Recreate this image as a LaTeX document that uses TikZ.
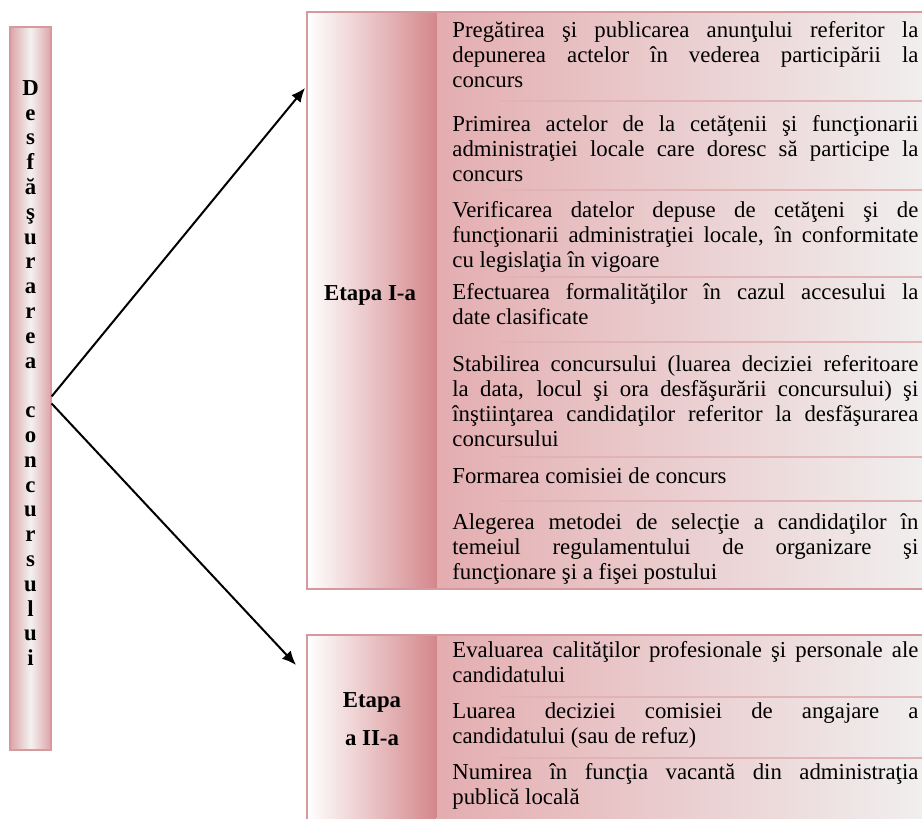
\documentclass[tikz,border=0pt]{standalone}
\usepackage{fontspec}
\setmainfont{Liberation Serif}
\usepackage{tikz}
\usetikzlibrary{arrows.meta}
\usepackage{xcolor}

\definecolor{roseedge}{HTML}{DCA4A7}
\definecolor{roseframe}{HTML}{D69A9E}
\definecolor{rosedark}{HTML}{D4878B}
\definecolor{roselight}{HTML}{E4ADB0}
\definecolor{rosesep}{HTML}{E2B3B5}
\definecolor{palecore}{HTML}{F4F1F1}
\definecolor{paleend}{HTML}{F1EFEF}

\begin{document}
\begin{tikzpicture}[
        x=0.5pt, y=-0.5pt,
        >={Latex[length=7pt,width=6pt]},
        bar/.style={
            draw=roseframe,
            line width=0.6pt,
            left color=roseedge,
            right color=roseedge,
            middle color=palecore,
            minimum width=20.5pt,
            minimum height=361.5pt,
            inner sep=0pt
        },
        letters/.style={
            anchor=north,
            inner sep=0pt,
            align=center,
            font=\bfseries\fontsize{11.4}{12.4}\selectfont
        },
        stagecol/.style={
            left color=white,
            right color=rosedark,
            minimum width=64.5pt,
            inner sep=0pt,
            anchor=north west
        },
        listcol/.style={
            left color=roselight,
            right color=paleend,
            minimum width=245pt,
            inner sep=0pt,
            anchor=north west
        },
        frame/.style={draw=roseframe, line width=0.7pt},
        stagelabel/.style={
            inner sep=0pt,
            align=center,
            font=\bfseries\fontsize{11.4}{16}\selectfont
        },
        entry/.style={
            anchor=north west,
            inner sep=0pt,
            text width=233pt,
            align=justify,
            font=\fontsize{11.4}{12.5}\selectfont
        },
        divider/.style={draw=rosesep, line width=0.6pt},
        line/.style={->, line width=1pt}
    ]

    \useasboundingbox (0,0) rectangle (922,819);

    % LEFT: vertical title bar
    \node[bar] (bar) at (30.5,388.5) {};
    \node[letters] (barword) at (30.5,80) {D\\e\\s\\f\\ă\\ş\\u\\r\\a\\r\\e\\a\\[12.4pt]c\\o\\n\\c\\u\\r\\s\\u\\l\\u\\i};

    % FIRST STAGE
    \node[stagecol, minimum height=288pt] (stageone) at (307,12) {};
    \node[listcol, minimum height=288pt] (listone) at (stageone.north east) {};
    \draw[frame] (stageone.north west) rectangle (listone.south east);
    \node[stagelabel, anchor=base] (labelone) at (370,300) {Etapa I-a};

    \node[entry] (prep) at (452,21.5) {Pregătirea şi publicarea anunţului referitor la \linebreak depunerea actelor în vederea participării la \linebreak concurs};
    \node[entry] (receive) at (452,115.5) {Primirea actelor de la cetăţenii şi funcţionarii \linebreak administraţiei locale care doresc să participe la \linebreak concurs};
    \node[entry] (check) at (452,201.5) {Verificarea datelor depuse de cetăţeni şi de \linebreak funcţionarii administraţiei locale, în conformitate \linebreak cu legislaţia în vigoare};
    \node[entry] (access) at (452,283.5) {Efectuarea formalităţilor în cazul accesului la \linebreak date clasificate};
    \node[entry] (setup) at (452,355.5) {Stabilirea concursului (luarea deciziei referitoare \linebreak la data, locul şi ora desfăşurării concursului) şi \linebreak înştiinţarea candidaţilor referitor la desfăşurarea \linebreak concursului};
    \node[entry] (board) at (452,467.5) {Formarea comisiei de concurs};
    \node[entry] (method) at (452,513.5) {Alegerea metodei de selecţie a candidaţilor în \linebreak temeiul regulamentului de organizare şi \linebreak funcţionare şi a fişei postului};

    % SECOND STAGE
    \node[stagecol, minimum height=100pt] (stagetwo) at (307,635) {};
    \node[listcol, minimum height=100pt] (listtwo) at (stagetwo.north east) {};
    \draw[frame] (stagetwo.north west) rectangle (listtwo.south east);
    \node[stagelabel, anchor=north] (labeltwo) at (372,692) {Etapa\\[3pt]a II-a};

    \node[entry] (assess) at (452,641.5) {Evaluarea calităţilor profesionale şi personale ale \linebreak candidatului};
    \node[entry] (decide) at (452,702.5) {Luarea deciziei comisiei de angajare a \linebreak candidatului (sau de refuz)};
    \node[entry] (appoint) at (452,763.5) {Numirea în funcţia vacantă din administraţia \linebreak publică locală};

    % ============================================================
    % DIVIDERS between the entries
    % ============================================================
    \draw[divider] (500,101) -- (listone.east |- 500,101);
    \draw[divider] (500,190) -- (listone.east |- 500,190);
    \draw[divider] (500,277) -- (listone.east |- 500,277);
    \draw[divider] (500,342) -- (listone.east |- 500,342);
    \draw[divider] (500,457) -- (listone.east |- 500,457);
    \draw[divider] (500,501) -- (listone.east |- 500,501);
    \draw[divider] (500,697) -- (listtwo.east |- 500,697);
    \draw[divider] (500,758) -- (listtwo.east |- 500,758);

    % ============================================================
    % CONNECTIONS: title bar to both stages
    % ============================================================
    \coordinate (forkup) at ([yshift=-4pt]bar.east);
    \coordinate (forkdown) at ([yshift=-7.5pt]bar.east);
    \coordinate (tipone) at ([xshift=-1pt,yshift=-38pt]stageone.north west);
    \coordinate (tiptwo) at ([xshift=-5.5pt,yshift=-15pt]stagetwo.north west);
    \draw[line] (forkup) -- (tipone);
    \draw[line] (forkdown) -- (tiptwo);

\end{tikzpicture}
\end{document}
